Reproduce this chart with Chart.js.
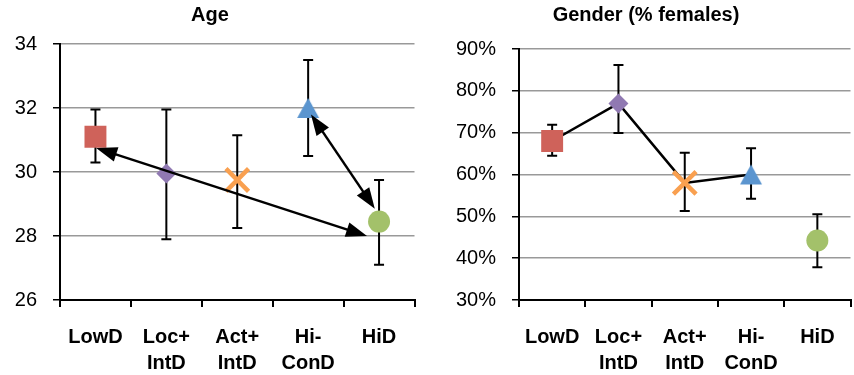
<!DOCTYPE html>
<html>
<head>
<meta charset="utf-8">
<script src="https://cdn.jsdelivr.net/npm/chart.js@4.4.0/dist/chart.umd.min.js"></script>
<style>
  html, body { margin: 0; padding: 0; background: #fff; overflow: hidden; }
  #wrap { position: relative; width: 854px; height: 375px; overflow: hidden; }
  #ageChart { position: absolute; left: 0; top: 0; }
  #genderChart { position: absolute; left: 430px; top: 0; }
</style>
</head>
<body>
<div id="wrap">
  <canvas id="ageChart" width="430" height="375"></canvas>
  <canvas id="genderChart" width="436" height="375"></canvas>
</div>
<script>
// Groups on the x axis
const groups = [['LowD'], ['Loc+', 'IntD'], ['Act+', 'IntD'], ['Hi-', 'ConD'], ['HiD']];

// Age panel: means and error bar ends
const ageMean = [31.1, 29.95, 29.75, 32.0, 28.45];
const ageHigh = [31.95, 31.95, 31.15, 33.5, 29.75];
const ageLow = [30.3, 27.9, 28.25, 30.5, 27.1];
const ageTicks = [26, 28, 30, 32, 34];

// Arrows on the Age panel: [fromIndex, fromAge, toIndex, toAge]
const ageArrows = [[0.01, 30.75, 3.83, 28.0], [3.04, 31.8, 3.94, 28.85]];

// Gender panel: % females
const femaleMean = [68, 77, 58, 60, 44.2];
const femaleHigh = [71.9, 86.2, 65.2, 66.3, 50.5];
const femaleLow = [64.5, 69.9, 51.3, 54.2, 37.8];
const femaleTicks = [30, 40, 50, 60, 70, 80, 90];
// the connecting line stops before HiD
const femaleLinked = [true, true, true, true, false];

// Marker look per group
const markerColors = ['#CF625A', '#9079B2', '#F9A050', '#5B95CF', '#A3C16A'];

// Excel centres its triangle on the bounding box, so draw it as a small image
function triangleMarker(color) {
    const c = document.createElement('canvas');
    c.width = 24;
    c.height = 22;
    const g = c.getContext('2d');
    g.fillStyle = color;
    g.beginPath();
    g.moveTo(12, 1);
    g.lineTo(23, 21);
    g.lineTo(1, 21);
    g.closePath();
    g.fill();
    return c;
}

const markerStyles = ['rect', 'rectRot', 'crossRot', triangleMarker(markerColors[3]), 'circle'];
const markerSizes = [15.5, 10, 16, 12, 11];

Chart.defaults.font.family = "'Liberation Sans', Arial, sans-serif";
Chart.defaults.color = '#000';

// Function to draw the vertical error bars behind the markers
function errorBars(high, low) {
    return {
        id: 'errorBars',
        beforeDatasetsDraw(chart) {
            const { ctx, scales: { x, y } } = chart;
            ctx.save();
            ctx.strokeStyle = '#000';
            ctx.lineWidth = 2;
            high.forEach((hi, i) => {
                const px = x.getPixelForValue(i);
                const top = y.getPixelForValue(hi);
                const bot = y.getPixelForValue(low[i]);
                ctx.beginPath();
                ctx.moveTo(px, top); ctx.lineTo(px, bot);
                ctx.moveTo(px - 5, top); ctx.lineTo(px + 5, top);
                ctx.moveTo(px - 5, bot); ctx.lineTo(px + 5, bot);
                ctx.stroke();
            });
            ctx.restore();
        }
    };
}

function arrowHead(ctx, x, y, ang) {
    const len = 21, half = 7.5;
    const c = Math.cos(ang), s = Math.sin(ang);
    ctx.beginPath();
    ctx.moveTo(x, y);
    ctx.lineTo(x - len * c + half * s, y - len * s - half * c);
    ctx.lineTo(x - len * c - half * s, y - len * s + half * c);
    ctx.closePath();
    ctx.fill();
}

// Function to draw the double headed arrows
function arrows(list) {
    return {
        id: 'arrows',
        afterDatasetsDraw(chart) {
            const { ctx, scales: { x, y } } = chart;
            ctx.save();
            ctx.strokeStyle = '#000';
            ctx.fillStyle = '#000';
            ctx.lineWidth = 2.5;
            list.forEach(([i1, v1, i2, v2]) => {
                const x1 = x.getPixelForValue(i1), y1 = y.getPixelForValue(v1);
                const x2 = x.getPixelForValue(i2), y2 = y.getPixelForValue(v2);
                const ang = Math.atan2(y2 - y1, x2 - x1);
                const c = Math.cos(ang) * 15, s = Math.sin(ang) * 15;
                ctx.beginPath();
                ctx.moveTo(x1 + c, y1 + s);
                ctx.lineTo(x2 - c, y2 - s);
                ctx.stroke();
                arrowHead(ctx, x1, y1, ang + Math.PI);
                arrowHead(ctx, x2, y2, ang);
            });
            ctx.restore();
        }
    };
}

function markerDataset(values) {
    return {
        type: 'line',
        data: values,
        showLine: false,
        order: 1,
        pointStyle: markerStyles,
        pointRadius: markerSizes,
        pointBackgroundColor: markerColors,
        pointBorderColor: markerColors,
        pointBorderWidth: markerStyles.map(s => s === 'crossRot' ? 4.5 : 0)
    };
}

function buildOptions(cfg) {
    return {
        responsive: false,
        animation: false,
        layout: { padding: { left: 0, right: cfg.padRight, top: 0, bottom: 0 } },
        plugins: {
            legend: { display: false },
            tooltip: { enabled: false },
            title: {
                display: true,
                text: cfg.title,
                font: { size: 20, weight: 'bold' },
                padding: { top: 3, bottom: cfg.titleGap }
            }
        },
        scales: {
            x: {
                type: 'category',
                labels: groups,
                offset: true,
                grid: { display: true, drawOnChartArea: false, offset: true, tickLength: 7, tickColor: '#000', lineWidth: 2 },
                border: { color: '#000', width: 2 },
                ticks: { font: { size: 20, weight: 'bold', lineHeight: 1.3 }, padding: 17, maxRotation: 0, autoSkip: false },
                afterFit: s => { s.height = 75; }
            },
            y: {
                min: cfg.ticks[0],
                max: cfg.ticks[cfg.ticks.length - 1],
                afterBuildTicks: s => { s.ticks = cfg.ticks.map(v => ({ value: v })); },
                grid: { color: '#999', lineWidth: 1.5, tickLength: 7, tickColor: '#000' },
                border: { color: '#000', width: 2 },
                ticks: { font: { size: 20 }, padding: 16, callback: cfg.fmt },
                afterFit: s => { s.width = cfg.axisWidth; }
            }
        }
    };
}

// Age chart
new Chart(document.getElementById('ageChart'), {
    type: 'line',
    data: { labels: groups, datasets: [markerDataset(ageMean)] },
    options: buildOptions({ title: 'Age', ticks: ageTicks, axisWidth: 60, padRight: 10, titleGap: 17, fmt: v => v }),
    plugins: [errorBars(ageHigh, ageLow), arrows(ageArrows)]
});

// Gender chart
new Chart(document.getElementById('genderChart'), {
    type: 'line',
    data: {
        labels: groups,
        datasets: [
            markerDataset(femaleMean),
            {
                type: 'line',
                data: femaleMean.map((v, i) => femaleLinked[i] ? v : null),
                order: 2,
                borderColor: '#000',
                borderWidth: 2.5,
                pointRadius: 0,
                spanGaps: false
            }
        ]
    },
    options: buildOptions({ title: 'Gender (% females)', ticks: femaleTicks, axisWidth: 89, padRight: 4, titleGap: 22, fmt: v => v + '%' }),
    plugins: [errorBars(femaleHigh, femaleLow)]
});
</script>
</body>
</html>
